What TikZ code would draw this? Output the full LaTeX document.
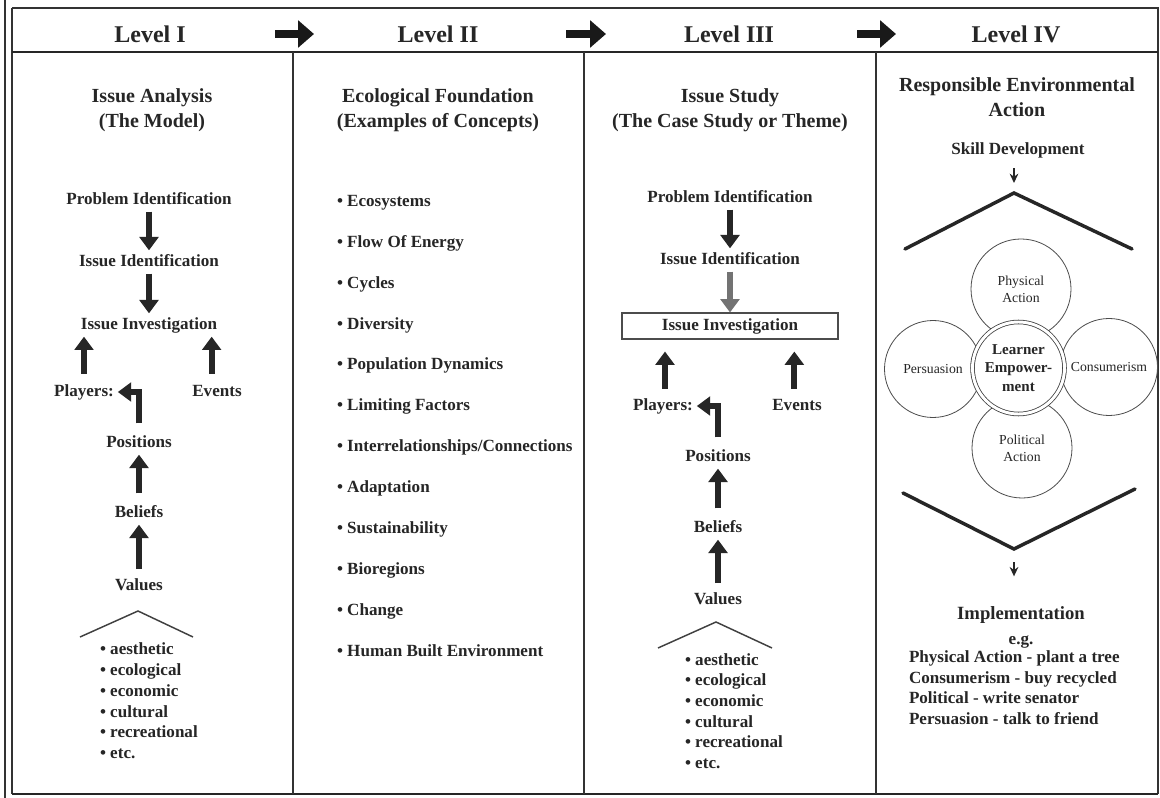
\documentclass[tikz,border=0pt]{standalone}
\usepackage{fontspec}
\setmainfont{Liberation Serif}
\usetikzlibrary{arrows.meta}
\begin{document}
\begin{tikzpicture}[x=0.75pt,y=-0.75pt,
  lbl/.style={font=\bfseries\fontsize{12.8}{14}\selectfont, inner sep=0pt, outer sep=3pt, text height=9pt, text depth=2.5pt, text=black!85},
  bitem/.style={lbl, anchor=west},
  lvl/.style={font=\bfseries\fontsize{18}{20}\selectfont, inner sep=0pt, text=black!85},
  ttl/.style={font=\bfseries\fontsize{15}{18.75}\selectfont, align=center, inner sep=0pt, text=black!85},
  barr/.style={line width=4.5pt, draw=black!85, -{Triangle[width=14pt,length=10pt]}},
  garr/.style={barr, draw=black!55},
  harr/.style={line width=6pt, draw=black!90, -{Triangle[width=20pt,length=12pt]}},
  sarr/.style={line width=1.2pt, draw=black!85, -{Stealth[width=6.5pt,length=7pt]}},
  rule/.style={line width=1.3pt, draw=black!80},
  petal/.style={circle, draw=black!70, line width=0.6pt, inner sep=0pt, font=\fontsize{10.3}{12.5}\selectfont, align=center, text=black!85},
  roof/.style={line width=1.1pt, draw=black!75},
  broof/.style={line width=2.6pt, draw=black!85, line cap=round},
]
\useasboundingbox (0,0) rectangle (1160,798);
\fill[white] (0,0) rectangle (1160,798);

% frame
\draw[rule] (5,0) -- (5,798);
\draw[rule] (12,8) -- (12,794);
\draw[rule] (12,8) -- (1158,8) -- (1158,794);
\draw[line width=1.6pt, draw=black!85] (12,794) -- (1158,794);
\draw[line width=1.8pt, draw=black!85] (12,52) -- (1158,52);
\draw[rule] (293,52) -- (293,794);
\draw[rule] (584,52) -- (584,794);
\draw[rule] (876,52) -- (876,794);

% header
\node[lvl] (L1) at (150,34) {Level I};
\node[lvl] (L2) at (438,34) {Level II};
\node[lvl] (L3) at (729,34) {Level III};
\node[lvl] (L4) at (1016,34) {Level IV};
\coordinate (a1s) at (275,34); \coordinate (a1e) at (314,34);
\coordinate (a2s) at (566,34); \coordinate (a2e) at (606,34);
\coordinate (a3s) at (857,34); \coordinate (a3e) at (896,34);
\draw[harr] (a1s) -- (a1e);
\draw[harr] (a2s) -- (a2e);
\draw[harr] (a3s) -- (a3e);

% titles
\node[ttl] (T1) at (152,110) {Issue Analysis\\(The Model)};
\node[ttl] (T2) at (438,110) {Ecological Foundation\\(Examples of Concepts)};
\node[ttl] (T3) at (730,110) {Issue Study\\(The Case Study or Theme)};
\node[ttl] (T4) at (1017,97) {Responsible Environmental\\Action};

% column 1
\node[lbl] (pi1) at (149,200) {Problem Identification};
\node[lbl] (ii1) at (149,262) {Issue Identification};
\node[lbl] (inv1) at (149,325) {Issue Investigation};
\node[lbl] (pl1) at (84,392) {Players:};
\node[lbl] (ev1) at (217,392) {Events};
\node[lbl] (pos1) at (139,443) {Positions};
\node[lbl] (bel1) at (139,513) {Beliefs};
\node[lbl] (val1) at (139,586) {Values};
\draw[barr] (pi1) -- (ii1);
\draw[barr] (ii1) -- (inv1);
\draw[barr, shorten <=5pt] (pl1.north) -- (pl1.north |- inv1.south);
\draw[barr, shorten <=5pt] ([xshift=-4pt]ev1.north) -- ([xshift=-4pt]ev1.north |- inv1.south);
\draw[barr, shorten <=6pt] (pos1.north) |- (pl1.east);
\draw[barr, shorten <=6pt] (bel1.north) -- (pos1.south);
\draw[barr, shorten <=4pt] (val1.north) -- (bel1.south);
\draw[roof] (80,637) -- (138,611) -- (193,637);
\foreach \t [count=\i from 0] in {aesthetic,ecological,economic,cultural,recreational,etc.}
  \node[bitem] (va1-\i) at (96,{650+20.9*\i}) {\textbullet\ \t};

% column 2
\foreach \t [count=\i from 0] in {Ecosystems,Flow Of Energy,Cycles,Diversity,Population Dynamics,Limiting Factors,Interrelationships/Connections,Adaptation,Sustainability,Bioregions,Change,Human Built Environment}
  \node[bitem] (c2-\i) at (333,{202+40.9*\i}) {\textbullet\ \t};

% column 3
\node[lbl] (pi3) at (730,198) {Problem Identification};
\node[lbl] (ii3) at (730,260) {Issue Identification};
\node[lbl, draw=black!70, line width=0.8pt, minimum width=162pt, minimum height=19.5pt, outer sep=0.4pt] (inv3) at (730,326) {Issue Investigation};
\node[lbl] (pl3) at (663,406) {Players:};
\node[lbl] (ev3) at (797,406) {Events};
\node[lbl] (pos3) at (718,457) {Positions};
\node[lbl] (bel3) at (718,528) {Beliefs};
\node[lbl] (val3) at (718,600) {Values};
\draw[barr] (pi3) -- (ii3);
\draw[garr] (ii3) -- (inv3);
\draw[barr, shorten <=4pt, shorten >=9pt] ([xshift=1.5pt]pl3.north) -- ([xshift=1.5pt]pl3.north |- inv3.south);
\draw[barr, shorten <=4pt, shorten >=9pt] ([xshift=-2pt]ev3.north) -- ([xshift=-2pt]ev3.north |- inv3.south);
\draw[barr, shorten <=6pt] (pos3.north) |- (pl3.east);
\draw[barr, shorten <=6pt] (bel3.north) -- (pos3.south);
\draw[barr, shorten <=4pt] (val3.north) -- (bel3.south);
\draw[roof] (658,648) -- (716,622) -- (772,648);
\foreach \t [count=\i from 0] in {aesthetic,ecological,economic,cultural,recreational,etc.}
  \node[bitem] (va3-\i) at (681,{661+20.6*\i}) {\textbullet\ \t};

% column 4
\node[lbl] (sd) at (1018,150) {Skill Development};
\coordinate (apex) at (1014,193);
\coordinate (r4l) at (905,249);
\coordinate (r4r) at (1132,249);
\draw[sarr, shorten <=5pt, shorten >=7.5pt] (sd.south -| apex) -- (apex);
\draw[broof] (r4l) -- (apex) -- (r4r);

\node[petal, minimum size=75pt] (phys) at (1021,289) {Physical\\Action};
\node[petal, minimum size=72.75pt] (pers) at (933,369) {Persuasion};
\node[petal, minimum size=72.75pt] (cons) at (1109,367) {Consumerism};
\node[petal, minimum size=75pt] (pol) at (1022,448) {Political\\Action};
\node[circle, draw=black!75, line width=0.6pt, double=white, double distance=2.2pt, fill=white, inner sep=0pt, minimum size=69pt, align=center, font=\bfseries\fontsize{11.3}{13.9}\selectfont, text=black!85] (cen) at (1018.5,368) {Learner\\Empower-\\ment};

\coordinate (v4l) at (903,493);
\coordinate (v4b) at (1014,549);
\coordinate (v4r) at (1135,489);
\draw[broof] (v4l) -- (v4b) -- (v4r);

\node[lbl, font=\bfseries\fontsize{14}{16}\selectfont, text height=10pt, text depth=3pt] (impl) at (1021,615) {Implementation};
\draw[sarr, shorten <=10pt, shorten >=19.5pt] (v4b) -- (v4b |- impl.north);
\node[lbl] (eg) at (1021,640) {e.g.};
\node[bitem] (im1) at (905,658) {Physical Action - plant a tree};
\node[bitem] (im2) at (905,679) {Consumerism - buy recycled};
\node[bitem] (im3) at (905,699) {Political - write senator};
\node[bitem] (im4) at (905,720) {Persuasion - talk to friend};
\end{tikzpicture}
\end{document}
